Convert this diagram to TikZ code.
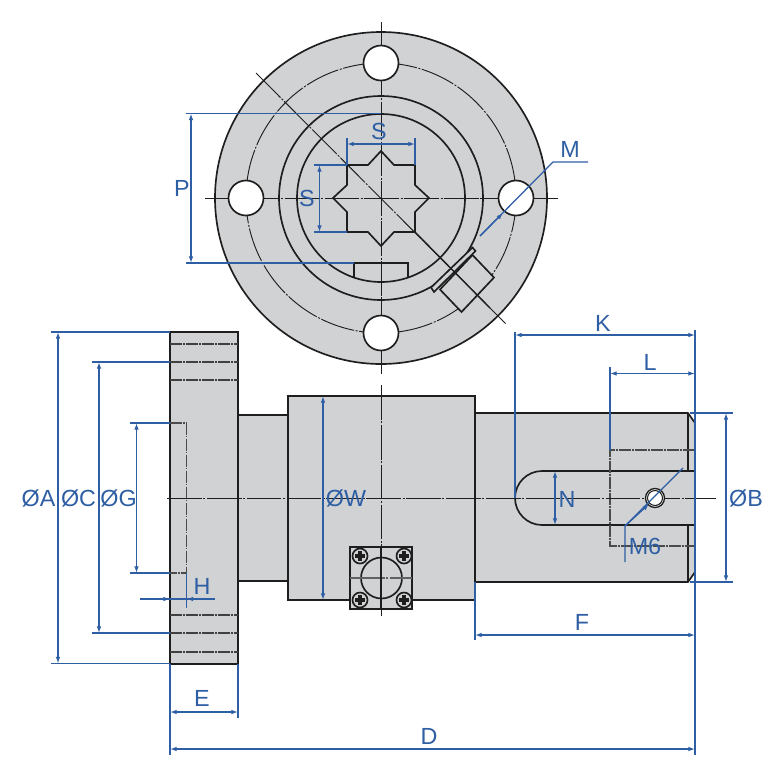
\documentclass[tikz,border=0pt]{standalone}
\usepackage{fontspec}
\setmainfont{Liberation Sans}
\usetikzlibrary{arrows.meta}
\definecolor{partgray}{RGB}{209,210,212}
\definecolor{ink}{RGB}{30,30,30}
\definecolor{dimblue}{RGB}{46,94,163}
\tikzset{
  part/.style={fill=partgray,draw=ink,line width=1.25pt},
  edge/.style={draw=ink,line width=1.25pt},
  hidden/.style={draw=ink!80,line width=0.85pt,dash pattern=on 9pt off 1pt on 1pt off 1pt},
  axis/.style={draw=ink,line width=0.7pt,dash pattern=on 26pt off 1.2pt on 1.5pt off 1.2pt},
  boltline/.style={draw=ink!85,line width=0.8pt,dash pattern=on 9pt off 1pt on 1pt off 1pt on 9pt off 1pt on 1pt off 1pt},
  dimline/.style={draw=dimblue,line width=0.95pt},
  dimarrow/.style={dimline,{Latex[length=5pt,width=3.5pt]}-{Latex[length=5pt,width=3.5pt]}},
  dimlabel/.style={text=dimblue,font=\fontsize{17.5}{17.5}\selectfont,inner sep=0pt}
}
\begin{document}
\begin{tikzpicture}[x=0.75pt,y=-0.75pt]
\useasboundingbox (0,0) rectangle (774,768);

% top view
\filldraw[part] (381,198) circle (166);
\draw[axis] (381,198) circle (135);
\draw[edge] (381,198) circle (102);
\draw[edge] (381,198) circle (84);
\filldraw[part] (347,165) -- (368,165) -- (381,151) -- (394,165) -- (415,165)
  -- (415,185) -- (429,198) -- (415,212) -- (415,232) -- (394,232)
  -- (381,246) -- (368,232) -- (347,232) -- (347,212) -- (333,198)
  -- (347,185) -- cycle;
\draw[edge] (354,277) -- (354,263) -- (408,263) -- (408,277);
\filldraw[part] (472.5,255) -- (494,277.5) -- (461.5,312) -- (440,289.5) -- cycle;
\filldraw[part] (472.5,247.5) -- (475.5,251) -- (434,292) -- (431,287.5) -- cycle;
\draw[axis] (381,22) -- (381,374);
\draw[axis] (205,198) -- (558,198);
\draw[axis] (256,73) -- (506,324);
\draw[draw=ink,line width=1pt] (415,232) -- (490,308);
\foreach \hx/\hy in {381/63,381/333,246/198,516/198}
  \filldraw[fill=white,draw=ink,line width=1.25pt] (\hx,\hy) circle (17.5);

% side view
\filldraw[part] (170,332) rectangle (238,664);
\filldraw[part] (238,415) rectangle (288,581);
\filldraw[part] (288,396) rectangle (475,600);
\filldraw[part] (475,413) -- (688,413) -- (695,423) -- (695,572) -- (688,582) -- (475,582) -- cycle;
\draw[edge] (688,413) -- (688,471) (688,525) -- (688,582);
\draw[edge] (695,471) -- (542,471) arc (270:90:27) -- (695,525);
\foreach \fy in {344,362,380,615,633,652}
  \draw[boltline] (170,\fy) -- (238,\fy);
\draw[hidden] (170,423) -- (186.5,423) -- (186.5,573) -- (170,573);
\draw[hidden] (695,450) -- (610,450) -- (610,546) -- (695,546);
\draw[axis] (167,498) -- (716,498);
\draw[axis] (381,385) -- (381,616);

% terminal block
\filldraw[part] (350,547) rectangle (412,609);
\draw[edge] (381.5,578) circle (20.5);
\draw[axis,line width=1pt,draw=ink!70] (350,578) -- (412,578);
\draw[draw=ink,line width=0.8pt] (381,547) -- (381,609);
\foreach \sx/\sy in {360/556,404/556,360/600,404/600} {
  \draw[edge] (\sx,\sy) circle (7.5);
  \draw[draw=ink,line width=2.5pt] (\sx-5,\sy) -- (\sx+5,\sy) (\sx,\sy-5) -- (\sx,\sy+5);
}

% set screw
\filldraw[fill=white,draw=ink,line width=1pt] (655,498) circle (9.5);
\draw[draw=ink,line width=0.8pt] (655,498) circle (7.5);

% dimension lines
\draw[dimline] (186,113.5) -- (381,113.5) (186,263) -- (354,263);
\draw[dimarrow] (191,113.5) -- (191,263);
\draw[dimline] (347,138) -- (347,165) (415,138) -- (415,165);
\draw[dimarrow] (347,144) -- (415,144);
\draw[dimline] (314,165) -- (347,165) (314,232) -- (347,232);
\draw[dimarrow] (319.5,165) -- (319.5,232);
\draw[dimline] (480,236) -- (553,162) -- (588,162);
\draw[dimline,-{Latex[length=5pt,width=3.5pt]}] (480,236) -- (503,213);

\draw[dimline] (51,332) -- (170,332) (51,663.5) -- (170,663.5);
\draw[dimarrow] (58,332) -- (58,663.5);
\draw[dimline] (92,362) -- (170,362) (92,633) -- (170,633);
\draw[dimarrow] (99,362) -- (99,633);
\draw[dimline] (130,423) -- (170,423) (130,573) -- (170,573);
\draw[dimarrow] (136.5,423) -- (136.5,573);
\draw[dimline] (186.5,573) -- (186.5,608);
\draw[dimline] (140,599) -- (215,599);
\draw[dimline,-{Latex[length=5pt,width=3.5pt]}] (160,599) -- (170,599);
\draw[dimline,-{Latex[length=5pt,width=3.5pt]}] (197,599) -- (186.5,599);
\draw[dimline] (170,664) -- (170,755) (238,664) -- (238,718);
\draw[dimarrow] (170,712) -- (238,712);
\draw[dimarrow] (170,749) -- (695,749);
\draw[dimline] (695,330) -- (695,755);
\draw[dimline] (515,332) -- (515,498);
\draw[dimarrow] (515,335) -- (695,335);
\draw[dimline] (610,367) -- (610,450);
\draw[dimarrow] (610,373.5) -- (695,373.5);
\draw[dimline] (690,413) -- (733,413) (690,582) -- (733,582);
\draw[dimarrow] (726,413) -- (726,582);
\draw[dimline] (475,582) -- (475,640);
\draw[dimarrow] (475,635) -- (695,635);
\draw[dimarrow] (323,396) -- (323,600);
\draw[dimarrow] (555,471) -- (555,525);
\draw[dimline] (683,468) -- (625,526) -- (625,562);
\draw[dimline,-{Latex[length=5pt,width=3.5pt]}] (625,526) -- (649,504);

% labels
\path (182,188) node[dimlabel] (labelP) {P}
(379,131) node[dimlabel] (labelSa) {S}
(307,198) node[dimlabel] (labelSb) {S}
(570,149) node[dimlabel] (labelM) {M}
(38.5,498) node[dimlabel] (labelA) {ØA}
(78.5,498) node[dimlabel] (labelC) {ØC}
(118.5,498) node[dimlabel] (labelG) {ØG}
(202,586) node[dimlabel] (labelH) {H}
(202,698) node[dimlabel] (labelE) {E}
(429,736) node[dimlabel] (labelD) {D}
(346,498) node[dimlabel] (labelW) {ØW}
(567,499) node[dimlabel] (labelN) {N}
(645,546) node[dimlabel] (labelMsix) {M6}
(603,323) node[dimlabel] (labelK) {K}
(650,362) node[dimlabel] (labelL) {L}
(746,498) node[dimlabel] (labelB) {ØB}
(582,622) node[dimlabel] (labelF) {F};

\end{tikzpicture}
\end{document}
